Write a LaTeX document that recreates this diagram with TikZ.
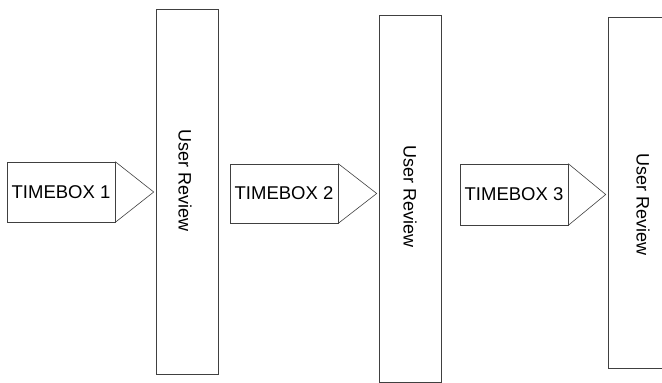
\documentclass[tikz,border=0pt]{standalone}
\usepackage{fontspec}
\setmainfont{Liberation Sans}
\usepackage{tikz}

\begin{document}
\begin{tikzpicture}[x=1pt, y=-1pt, line width=0.6pt,
    tbox/.style = {draw=black!75, minimum width=108pt, minimum height=60pt, inner sep=0pt, font=\fontsize{18.5}{20}\selectfont},
    review/.style = {draw=black!75, minimum width=62pt, inner sep=0pt},
    rtext/.style = {rotate=-90, inner sep=0pt, font=\fontsize{18}{20}\selectfont}]
    \clip (0,0) rectangle (662,383);

    \node[review, minimum height=365pt] (rev1) at (187,191.5) {};
    \node[review, minimum height=367pt] (rev2) at (410,198.5) {};
    \node[review, minimum height=351pt] (rev3) at (639,192.5) {};

    \node[rtext] (lbl1) at (185,181) {User Review};
    \node[rtext] (lbl2) at (410,197) {User Review};
    \node[rtext] (lbl3) at (643,205) {User Review};

    \node[tbox] (tb1) at (61,192) {TIMEBOX 1};
    \node[tbox, minimum height=59pt] (tb2) at (284,193.5) {TIMEBOX 2};
    \node[tbox, minimum height=61pt] (tb3) at (514,194.5) {TIMEBOX 3};

    \coordinate (tip1) at ([xshift=-2pt]rev1.west |- tb1.east);
    \coordinate (tip2) at ([xshift=-2pt]rev2.west |- tb2.east);
    \coordinate (tip3) at ([xshift=-2pt]rev3.west |- tb3.east);

    \draw[black!75] (tb1.north east) -- (tip1) -- (tb1.south east);
    \draw[black!75] (tb2.north east) -- (tip2) -- (tb2.south east);
    \draw[black!75] (tb3.north east) -- (tip3) -- (tb3.south east);
\end{tikzpicture}
\end{document}
